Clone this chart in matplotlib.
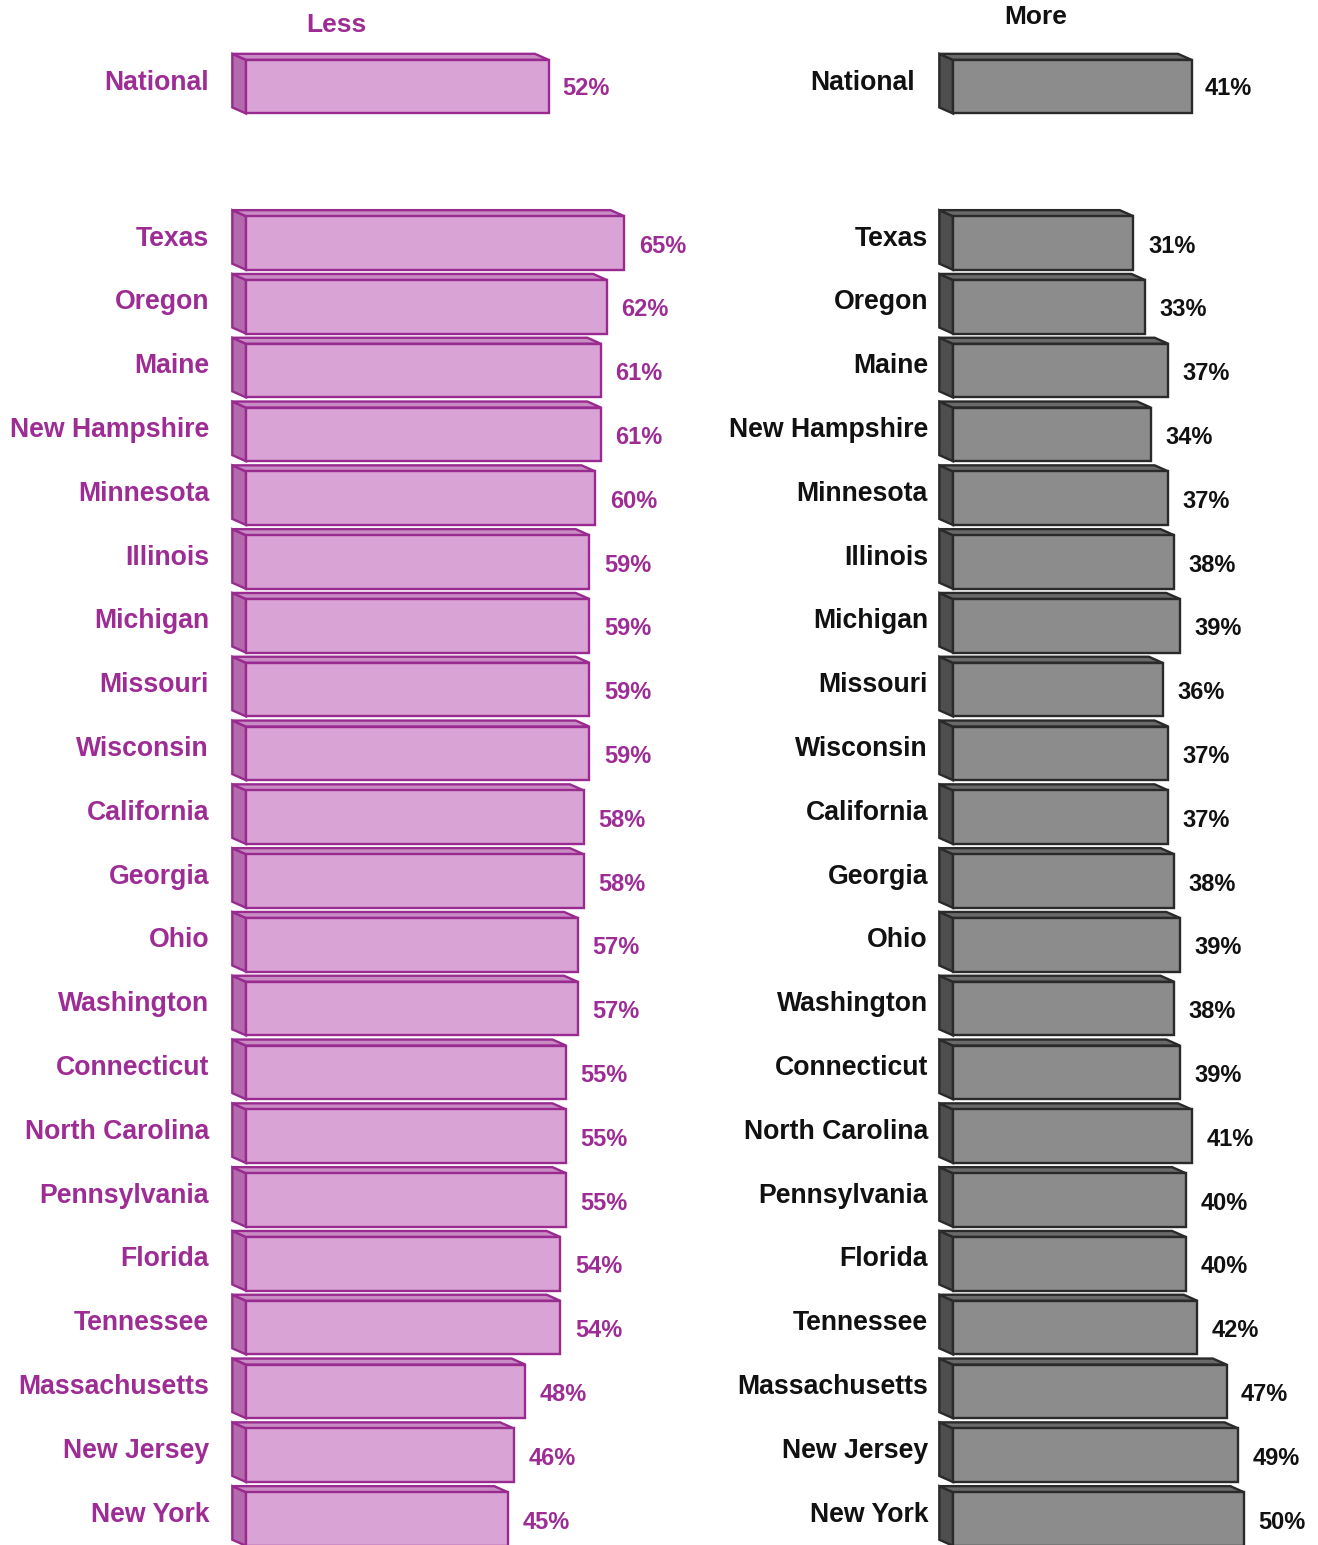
import numpy as np
import matplotlib.pyplot as plt
from matplotlib.patches import Polygon

plt.rcParams['font.family'] = ['Liberation Sans', 'DejaVu Sans']

states = ['Texas', 'Oregon', 'Maine', 'New Hampshire', 'Minnesota', 'Illinois',
          'Michigan', 'Missouri', 'Wisconsin', 'California', 'Georgia', 'Ohio',
          'Washington', 'Connecticut', 'North Carolina', 'Pennsylvania', 'Florida',
          'Tennessee', 'Massachusetts', 'New Jersey', 'New York']
less_pct = [65, 62, 61, 61, 60, 59, 59, 59, 59, 58, 58, 57, 57, 55, 55, 55, 54, 54, 48, 46, 45]
more_pct = [31, 33, 37, 34, 37, 38, 39, 36, 37, 37, 38, 39, 38, 39, 41, 40, 40, 42, 47, 49, 50]
national_less = 52
national_more = 41

W, H = 1318, 1545
PX_PER_PCT = 5.82
ROW_PX = 63.8
FIRST_ROW_PX = 243
NATIONAL_ROW = -2.45

purple_style = dict(front='#d9a4d5', side='#b46aad', top='#c98bc3', edge='#982a90', text='#9e2c95')
gray_style = dict(front='#8c8c8c', side='#4e4e4e', top='#6a6a6a', edge='#2a2a2a', text='#111111')


def bar3d(ax, row, value, style, depth_x=2.35, depth_y=0.095, height=0.84):
    # front face from the axes scale, plus an oblique side and top face
    yt = row - height / 2
    yb = row + height / 2
    ax.barh(row, value, height=height, left=0, color=style['front'],
            edgecolor=style['edge'], linewidth=1.7, zorder=3)
    side = [(0, yb), (0, yt), (-depth_x, yt - depth_y), (-depth_x, yb - depth_y)]
    top = [(0, yt), (value, yt), (value - depth_x, yt - depth_y), (-depth_x, yt - depth_y)]
    ax.add_patch(Polygon(side, closed=True, facecolor=style['side'],
                         edgecolor=style['edge'], linewidth=1.7, zorder=2))
    ax.add_patch(Polygon(top, closed=True, facecolor=style['top'],
                         edgecolor=style['edge'], linewidth=1.7, zorder=2))


def panel(fig, base_px, values, national, style, name_right_px, national_right_px,
          header, header_px):
    ax = fig.add_axes([0, 0, 1, 1])
    ax.patch.set_alpha(0)
    ax.set_xlim(-base_px / PX_PER_PCT, (W - base_px) / PX_PER_PCT)
    ax.set_ylim((H - FIRST_ROW_PX) / ROW_PX, -FIRST_ROW_PX / ROW_PX)
    ax.axis('off')
    to_x = lambda px: (px - base_px) / PX_PER_PCT

    rows = np.arange(len(states))
    for r, name, v in zip(rows, states, values):
        bar3d(ax, r, v, style)
        ax.text(to_x(name_right_px), r - 0.07, name, ha='right', va='center', fontsize=19.2,
                fontweight='bold', color=style['text'])
        ax.text(v + 2.5, r + 0.05, f'{v}%', ha='left', va='center', fontsize=17,
                fontweight='bold', color=style['text'])

    bar3d(ax, NATIONAL_ROW, national, style)
    ax.text(to_x(national_right_px), NATIONAL_ROW - 0.05, 'National', ha='right', va='center',
            fontsize=19.2, fontweight='bold', color=style['text'])
    ax.text(national + 2.3, NATIONAL_ROW + 0.03, f'{national}%', ha='left', va='center',
            fontsize=17, fontweight='bold', color=style['text'])
    ax.text(to_x(header_px[0]), (header_px[1] - FIRST_ROW_PX) / ROW_PX, header,
            ha='center', va='center', fontsize=19, fontweight='bold', color=style['text'])
    return ax


fig = plt.figure(figsize=(W / 100, H / 100), dpi=100)
fig.patch.set_facecolor('white')

panel(fig, 246, less_pct, national_less, purple_style, 209, 209, 'Less', (336, 25))
panel(fig, 953, more_pct, national_more, gray_style, 928, 915, 'More', (1036, 17))

fig.savefig('out.png', dpi=100)
